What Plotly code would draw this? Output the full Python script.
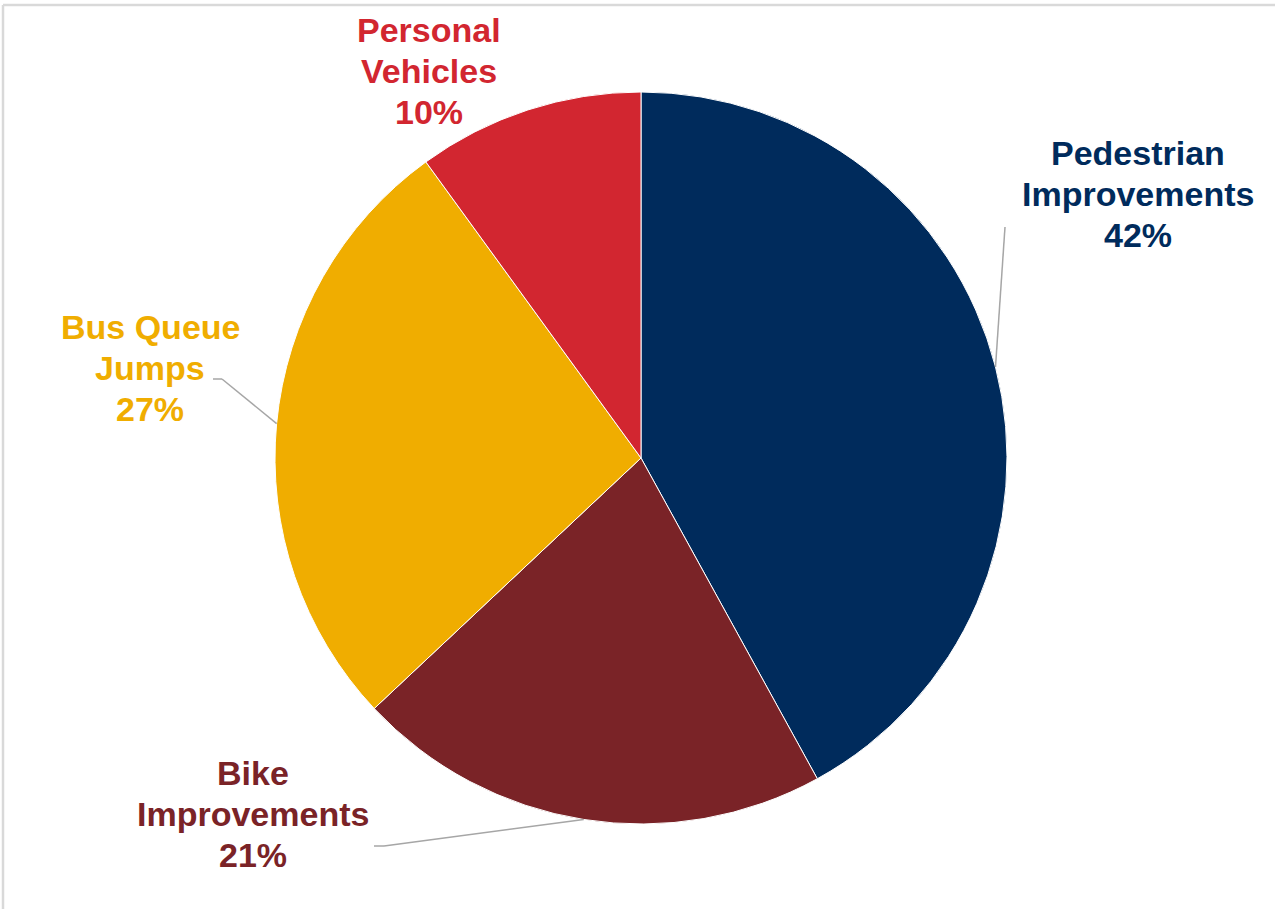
import math
import plotly.graph_objects as go

# ---- data ----
categories = ["Pedestrian Improvements", "Bike Improvements", "Bus Queue Jumps", "Personal Vehicles"]
label_lines = [["Pedestrian", "Improvements"], ["Bike", "Improvements"], ["Bus Queue", "Jumps"], ["Personal", "Vehicles"]]
values = [42, 21, 27, 10]
colors = ["#002B5C", "#7A2327", "#F0AD00", "#D22630"]

# label positions (pixel centres of the text blocks) and leader line geometry
label_pos = [(1138, 194), (253, 814), (150, 368), (429, 71)]
leader = [True, True, True, False]
leader_start = [(1005, 227), (374, 846), (213, 379), None]
leader_elbow = [None, (384, 846), (222, 379), None]

W, H = 1275, 909
CX, CY, R = 641, 458, 366
LINE_GAP = 41
FONT_SIZE = 34

fig = go.Figure(go.Pie(
    labels=categories,
    values=values,
    sort=False,
    direction="clockwise",
    rotation=0,
    marker=dict(colors=colors, line=dict(color="white", width=1)),
    textinfo="none",
    hoverinfo="label+percent",
    domain=dict(x=[(CX - R) / W, (CX + R) / W], y=[1 - (CY + R) / H, 1 - (CY - R) / H]),
    showlegend=False,
))

def px2paper(x, y):
    return x / W, 1 - y / H

total = sum(values)
annotations = []
shapes = []
cum = 0
for i, (lines, v, col) in enumerate(zip(label_lines, values, colors)):
    pct = round(100 * v / total)
    lx, ly = label_pos[i]
    all_lines = lines + [f"{pct}%"]
    n = len(all_lines)
    for k, t in enumerate(all_lines):
        yy = ly + (k - (n - 1) / 2) * LINE_GAP
        px, py = px2paper(lx, yy)
        annotations.append(dict(
            x=px, y=py, xref="paper", yref="paper",
            text=f"<b>{t}</b>", showarrow=False,
            font=dict(family="Liberation Sans, Arial", size=FONT_SIZE, color=col),
            align="center", xanchor="center", yanchor="middle",
        ))
    mid = (cum + v / 2) / total * 2 * math.pi
    cum += v
    if leader[i]:
        ex = CX + R * math.sin(mid)
        ey = CY - R * math.cos(mid)
        pts = [leader_start[i]]
        if leader_elbow[i]:
            pts.append(leader_elbow[i])
        pts.append((ex, ey))
        for (x0, y0), (x1, y1) in zip(pts[:-1], pts[1:]):
            a0, b0 = px2paper(x0, y0)
            a1, b1 = px2paper(x1, y1)
            shapes.append(dict(type="line", xref="paper", yref="paper",
                               x0=a0, y0=b0, x1=a1, y1=b1,
                               line=dict(color="#A6A6A6", width=1.5)))

# chart frame (top and left edges visible)
fx0, fy0 = px2paper(3, 5)
shapes.append(dict(type="line", xref="paper", yref="paper", x0=fx0, y0=fy0, x1=1.0, y1=fy0,
                   line=dict(color="#D9D9D9", width=2.5)))
shapes.append(dict(type="line", xref="paper", yref="paper", x0=fx0, y0=fy0, x1=fx0, y1=0.0,
                   line=dict(color="#D9D9D9", width=2.5)))

fig.update_layout(
    width=W, height=H,
    margin=dict(l=0, r=0, t=0, b=0),
    paper_bgcolor="white", plot_bgcolor="white",
    annotations=annotations, shapes=shapes,
)

fig.write_html("out.html", config={"displayModeBar": False},
               post_script="document.body.style.margin='0';document.body.style.overflow='hidden';")
